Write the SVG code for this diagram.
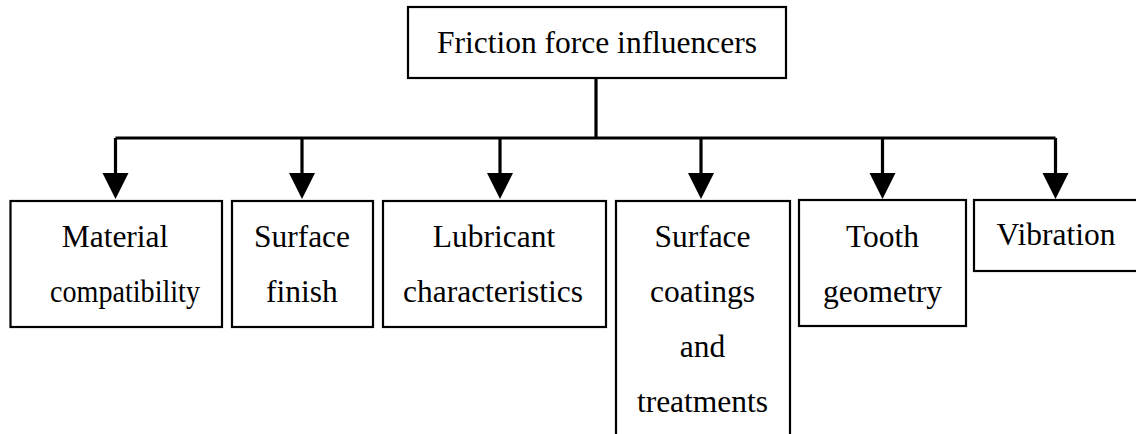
<svg xmlns="http://www.w3.org/2000/svg" width="1136" height="434" viewBox="0 0 1136 434">
<defs>
<style>
.box{fill:#fff;stroke:#000;stroke-width:2.2}
.t{font-family:'Liberation Serif','Tinos','Times New Roman','DejaVu Serif',serif;font-size:31.5px;fill:#000;text-anchor:middle}
.c{fill:none;stroke:#000;stroke-width:3.2}
.h{fill:#000}
</style>
</defs>
<rect width="1136" height="434" fill="#fff"/>
<g id="connectors">
<path class="c" d="M596 78V138M115.5 138H1055.5"/>
<path class="c" d="M115.5 138V174M302 138V174M500 138V174M701 138V174M882.5 138V174M1055.5 138V174"/>
<polygon class="h" points="102.5,173 128.5,173 115.5,199"/>
<polygon class="h" points="289,173 315,173 302,199"/>
<polygon class="h" points="487,173 513,173 500,199"/>
<polygon class="h" points="688,173 714,173 701,199"/>
<polygon class="h" points="869.5,173 895.5,173 882.5,199"/>
<polygon class="h" points="1042.5,173 1068.5,173 1055.5,199"/>
</g>
<g id="root">
<rect class="box" x="408" y="7" width="378" height="71"/>
<text class="t" x="597" y="53" font-family="Liberation Serif, serif">Friction force influencers</text>
</g>
<g id="n1">
<rect class="box" x="10.5" y="201" width="211.5" height="126"/>
<text class="t" x="115" y="247">Material</text>
<text class="t" x="125" y="302" textLength="150" lengthAdjust="spacingAndGlyphs">compatibility</text>
</g>
<g id="n2">
<rect class="box" x="232" y="201" width="141" height="126"/>
<text class="t" x="302" y="247">Surface</text>
<text class="t" x="302" y="302">finish</text>
</g>
<g id="n3">
<rect class="box" x="383" y="201" width="223" height="126"/>
<text class="t" x="494" y="247">Lubricant</text>
<text class="t" x="493" y="302" textLength="180" lengthAdjust="spacingAndGlyphs">characteristics</text>
</g>
<g id="n4">
<rect class="box" x="616" y="201" width="174" height="250"/>
<text class="t" x="702.5" y="247">Surface</text>
<text class="t" x="702.5" y="302">coatings</text>
<text class="t" x="702.5" y="357">and</text>
<text class="t" x="702.5" y="412">treatments</text>
</g>
<g id="n5">
<rect class="box" x="799" y="200" width="167" height="126"/>
<text class="t" x="882.5" y="247">Tooth</text>
<text class="t" x="882.5" y="302">geometry</text>
</g>
<g id="n6">
<rect class="box" x="974" y="200" width="175" height="71"/>
<text class="t" x="1056" y="245">Vibration</text>
</g>
</svg>
